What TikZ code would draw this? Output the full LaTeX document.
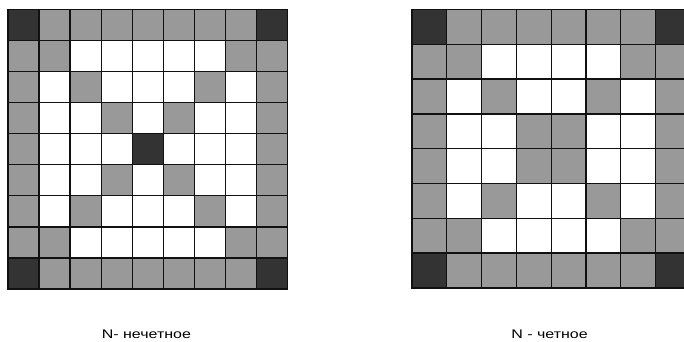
\documentclass[tikz,border=0pt]{standalone}
\usepackage{fontspec}
\setmainfont{Liberation Sans}
\definecolor{dk}{HTML}{333333}
\definecolor{gy}{HTML}{999999}
\definecolor{ln}{HTML}{111111}
\tikzset{
  cD/.style={fill=dk},
  cG/.style={fill=gy},
  cW/.style={fill=white},
  cellline/.style={draw=ln,line width=1.3pt},
  caption/.style={font=\fontsize{12.5}{14}\selectfont, xscale=1.28, anchor=base, inner sep=0pt}
}
\begin{document}
\begin{tikzpicture}[x=1pt,y=-1pt]
\useasboundingbox (0,0) rectangle (684,342);
% left grid 9x9
\def\cs{31.05}
\foreach \row [count=\r from 0] in {
 {D,G,G,G,G,G,G,G,D},
 {G,G,W,W,W,W,W,G,G},
 {G,W,G,W,W,W,G,W,G},
 {G,W,W,G,W,G,W,W,G},
 {G,W,W,W,D,W,W,W,G},
 {G,W,W,G,W,G,W,W,G},
 {G,W,G,W,W,W,G,W,G},
 {G,G,W,W,W,W,W,G,G},
 {D,G,G,G,G,G,G,G,D}} {
  \foreach \c [count=\k from 0] in \row {
    \path[c\c,cellline] ({8+\k*\cs},{9.5+\r*\cs}) rectangle ++(\cs,\cs);
  }
}
% right grid 8x8
\def\cr{34.8}
\foreach \row [count=\r from 0] in {
 {D,G,G,G,G,G,G,D},
 {G,G,W,W,W,W,G,G},
 {G,W,G,W,W,G,W,G},
 {G,W,W,G,G,W,W,G},
 {G,W,W,G,G,W,W,G},
 {G,W,G,W,W,G,W,G},
 {G,G,W,W,W,W,G,G},
 {D,G,G,G,G,G,G,D}} {
  \foreach \c [count=\k from 0] in \row {
    \path[c\c,cellline] ({412+\k*\cr},{9.5+\r*\cr}) rectangle ++(\cr,\cr);
  }
}
\node[caption] (capodd) at (146.4,338.7) {N- нечетное};
\node[caption] (capeven) at (549.5,338.7) {N - четное};
\end{tikzpicture}
\end{document}
